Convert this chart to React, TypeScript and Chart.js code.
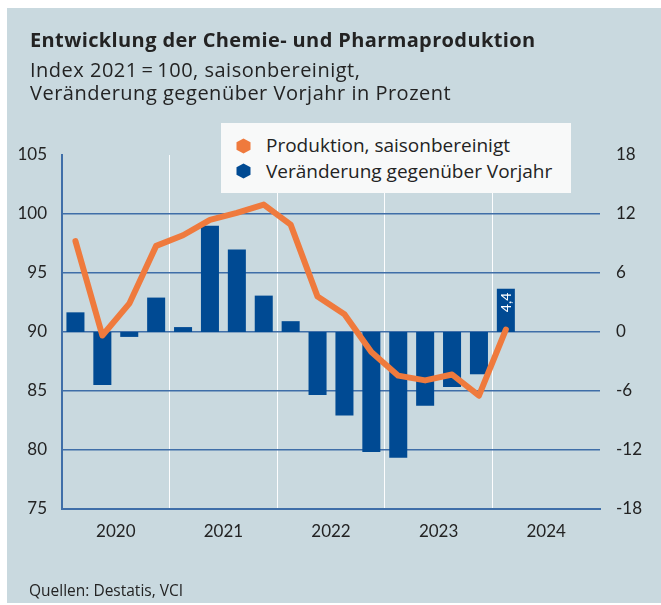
import React, { useEffect, useRef } from "react";
import { Chart, registerables } from "chart.js";

Chart.register(...registerables);

// ---- data ----
const quarters = [
  "Q1 2020", "Q2 2020", "Q3 2020", "Q4 2020",
  "Q1 2021", "Q2 2021", "Q3 2021", "Q4 2021",
  "Q1 2022", "Q2 2022", "Q3 2022", "Q4 2022",
  "Q1 2023", "Q2 2023", "Q3 2023", "Q4 2023",
  "Q1 2024", "Q2 2024", "Q3 2024", "Q4 2024",
];
const years = ["2020", "2021", "2022", "2023", "2024"];
const produktion = [
  97.7, 89.7, 92.4, 97.3,
  98.2, 99.5, 100.1, 100.8,
  99.1, 93.0, 91.5, 88.3,
  86.3, 85.9, 86.4, 84.6,
  90.2, null, null, null,
];
const veraenderung = [
  2.0, -5.4, -0.5, 3.5,
  0.5, 10.8, 8.4, 3.7,
  1.1, -6.4, -8.5, -12.2,
  -12.8, -7.5, -5.6, -4.3,
  4.4, null, null, null,
];
const seriesLabels = ["Produktion, saisonbereinigt", "Veränderung gegenüber Vorjahr"];
const leftAxis = { min: 75, max: 105, step: 5 };
const rightAxis = { min: -18, max: 18, step: 6 };

const TITLE = "Entwicklung der Chemie- und Pharmaproduktion";
const SUB1 = "Index 2021\u2009=\u2009100, saisonbereinigt,";
const SUB2 = "Veränderung gegenüber Vorjahr in Prozent";
const SOURCE = "Quellen: Destatis, VCI";

const ORANGE = "#ef7a3d";
const BLUE = "#004a93";
const GRID = "#3f6ea8";
const TEXT = "#232323";
const FONT = "'Open Sans', 'DejaVu Sans', sans-serif";
const TICK_FONT = "Lato, 'DejaVu Sans', sans-serif";

const barLabelPlugin = {
  id: "barLabel",
  afterDatasetsDraw(chart: any) {
    const ds = chart.data.datasets[1];
    const meta = chart.getDatasetMeta(1);
    let idx = -1;
    ds.data.forEach((v: any, i: number) => {
      if (v !== null && v !== undefined) idx = i;
    });
    if (idx < 0) return;
    const el = meta.data[idx];
    const v = ds.data[idx];
    const ctx = chart.ctx;
    ctx.save();
    ctx.translate(el.x + 1, el.y + 4);
    ctx.rotate(-Math.PI / 2);
    ctx.textAlign = "right";
    ctx.textBaseline = "middle";
    ctx.fillStyle = "#ffffff";
    ctx.font = "14px " + TICK_FONT;
    ctx.fillText(String(v).replace(".", ","), 0, 0);
    ctx.restore();
  },
};

function Hex({ color, left, top }: { color: string; left: number; top: number }) {
  return (
    <svg
      width={15}
      height={16}
      viewBox="-7.5 -8 15 16"
      style={{ position: "absolute", left: left - 7.5, top: top - 8 }}
    >
      <polygon points="0,-7.5 7,-3.75 7,3.75 0,7.5 -7,3.75 -7,-3.75" fill={color} />
    </svg>
  );
}

export default function App() {
  const canvasRef = useRef<HTMLCanvasElement | null>(null);

  useEffect(() => {
    if (!canvasRef.current) return;
    const chart = new Chart(canvasRef.current, {
      type: "bar",
      data: {
        labels: quarters,
        datasets: [
          {
            type: "line",
            label: seriesLabels[0],
            data: produktion,
            yAxisID: "y",
            xAxisID: "x",
            borderColor: ORANGE,
            backgroundColor: ORANGE,
            borderWidth: 6,
            borderCapStyle: "round",
            borderJoinStyle: "round",
            pointRadius: 0,
            tension: 0,
            order: 0,
          } as any,
          {
            type: "bar",
            label: seriesLabels[1],
            data: veraenderung,
            yAxisID: "y1",
            xAxisID: "x",
            backgroundColor: BLUE,
            borderWidth: 0,
            barPercentage: 0.67,
            categoryPercentage: 1,
            order: 1,
          } as any,
        ],
      },
      options: {
        animation: false,
        responsive: false,
        maintainAspectRatio: false,
        layout: { padding: { top: 147, left: 0, right: 0, bottom: 0 } },
        plugins: {
          legend: { display: false },
          tooltip: { enabled: false },
          title: { display: false },
        },
        scales: {
          x: {
            type: "category",
            position: "bottom",
            offset: true,
            grid: {
              offset: true,
              drawTicks: false,
              lineWidth: 1,
              color: (c: any) =>
                c.index > 0 && c.index % 4 === 0 ? "rgba(255,255,255,0.95)" : "rgba(0,0,0,0)",
            },
            border: { display: true, color: GRID, width: 2 },
            ticks: { display: false },
            afterFit: (s: any) => {
              s.height = 0;
            },
          },
          x2: {
            type: "category",
            position: "bottom",
            labels: years,
            offset: true,
            grid: { display: false, drawTicks: false },
            border: { display: false },
            ticks: {
              padding: 12,
              color: TEXT,
              font: { family: TICK_FONT, size: 17 },
              maxRotation: 0,
              autoSkip: false,
            },
            afterFit: (s: any) => {
              s.height = 94;
            },
          },
          y: {
            position: "left",
            min: leftAxis.min,
            max: leftAxis.max,
            ticks: {
              stepSize: leftAxis.step,
              padding: 15,
              color: TEXT,
              font: { family: TICK_FONT, size: 17 },
            },
            grid: {
              drawTicks: false,
              lineWidth: 1.5,
              color: (c: any) =>
                c.tick && c.tick.value === leftAxis.max ? "rgba(0,0,0,0)" : GRID,
            },
            border: { display: true, color: GRID, width: 2 },
            afterFit: (s: any) => {
              s.width = 55;
            },
          },
          y1: {
            position: "right",
            min: rightAxis.min,
            max: rightAxis.max,
            ticks: {
              stepSize: rightAxis.step,
              padding: 16,
              color: TEXT,
              font: { family: TICK_FONT, size: 17 },
            },
            grid: { display: false, drawTicks: false },
            border: { display: false },
            afterFit: (s: any) => {
              s.width = 61;
            },
          },
        },
      } as any,
      plugins: [barLabelPlugin],
    });
    return () => chart.destroy();
  }, []);

  return (
    <div
      style={{
        position: "absolute",
        left: 7,
        top: 8,
        width: 654,
        height: 595,
        background: "#c9d9df",
        fontFamily: FONT,
        color: TEXT,
        overflow: "hidden",
      }}
    >
      <canvas
        ref={canvasRef}
        width={654}
        height={595}
        style={{ position: "absolute", left: 0, top: 0, width: 654, height: 595 }}
      />
      <div
        style={{
          position: "absolute",
          left: 23,
          top: 20,
          fontSize: 20,
          fontWeight: 700,
          letterSpacing: "0.38px",
          lineHeight: "24px",
          whiteSpace: "nowrap",
        }}
      >
        {TITLE}
      </div>
      <div
        style={{
          position: "absolute",
          left: 23,
          top: 49.6,
          fontSize: 20,
          letterSpacing: "0.5px",
          lineHeight: "23.5px",
          whiteSpace: "nowrap",
        }}
      >
        {SUB1}
        <br />
        {SUB2}
      </div>
      <div
        style={{
          position: "absolute",
          left: 214,
          top: 115,
          width: 350,
          height: 70,
          background: "#f8f9f9",
        }}
      >
        <Hex color={ORANGE} left={22.5} top={22.5} />
        <Hex color={BLUE} left={22.5} top={47.5} />
        <div
          style={{
            position: "absolute",
            left: 45,
            top: 10.9,
            fontSize: 19,
            lineHeight: "22px",
            whiteSpace: "nowrap",
          }}
        >
          {seriesLabels[0]}
        </div>
        <div
          style={{
            position: "absolute",
            left: 45,
            top: 36.9,
            fontSize: 19,
            lineHeight: "22px",
            whiteSpace: "nowrap",
          }}
        >
          {seriesLabels[1]}
        </div>
      </div>
      <div
        style={{
          position: "absolute",
          left: 22,
          top: 572.7,
          fontSize: 15.5,
          lineHeight: "18px",
          whiteSpace: "nowrap",
        }}
      >
        {SOURCE}
      </div>
    </div>
  );
}
